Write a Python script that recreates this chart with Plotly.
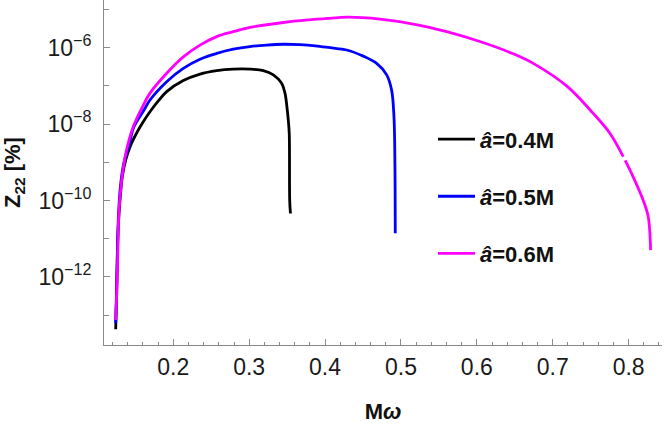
import plotly.graph_objects as go

# M*omega values and Z22 [%] for each spin
x_04 = [0.1241, 0.1254, 0.1262, 0.1275, 0.1298, 0.1328, 0.1373, 0.1439, 0.1526, 0.1600,
        0.1693, 0.1800, 0.1913, 0.2132, 0.2352, 0.2572, 0.2790, 0.3010, 0.3186, 0.3318,
        0.3428, 0.3472, 0.3502, 0.3515, 0.3528, 0.3534, 0.3544]
z_04 = [4.27e-14, 3.72e-13, 2.75e-12, 2.04e-11, 1.02e-10, 4.17e-10, 1.15e-9, 2.82e-9, 6.31e-9, 1.12e-8,
        2.11e-8, 3.98e-8, 7.08e-8, 1.38e-7, 2.04e-7, 2.51e-7, 2.75e-7, 2.75e-7, 2.51e-7, 1.95e-7,
        1.17e-7, 6.46e-8, 2.34e-8, 1.29e-8, 5.75e-9, 1.02e-10, 4.57e-11]

x_05 = [0.1241, 0.1254, 0.1265, 0.1280, 0.1305, 0.1345, 0.1416, 0.1482, 0.1614, 0.1693,
        0.1913, 0.2132, 0.2352, 0.2572, 0.2790, 0.3010, 0.3230, 0.3449, 0.3669, 0.3870,
        0.4065, 0.4285, 0.4503, 0.4680, 0.4812, 0.4877, 0.4908, 0.4921, 0.4925]
z_05 = [6.17e-14, 6.31e-13, 6.31e-12, 5.01e-11, 2.51e-10, 8.91e-10, 2.82e-9, 8.51e-9, 2.34e-8, 4.27e-8,
        1.29e-7, 2.88e-7, 5.01e-7, 7.08e-7, 9.12e-7, 1.07e-6, 1.17e-6, 1.23e-6, 1.20e-6, 1.12e-6,
        1.00e-6, 8.71e-7, 6.03e-7, 3.89e-7, 1.95e-7, 7.76e-8, 1.55e-8, 7.59e-10, 1.38e-11]

x_06 = [0.1241, 0.1262, 0.1271, 0.1285, 0.1315, 0.1350, 0.1394, 0.1482, 0.1600, 0.1693,
        0.1913, 0.2132, 0.2352, 0.2572, 0.2790, 0.3010, 0.3449, 0.3800, 0.4065, 0.4285,
        0.4723, 0.5162, 0.5602, 0.6040, 0.6480, 0.6743, 0.7183, 0.7533, 0.7753, 0.7929,
        None, 0.7955, 0.8060, 0.8192, 0.8258, 0.8290]
z_06 = [7.41e-14, 1.0e-12, 7.59e-12, 5.62e-11, 2.82e-10, 9.33e-10, 2.57e-9, 9.55e-9, 3.02e-8, 6.46e-8,
        2.14e-7, 5.75e-7, 1.17e-6, 1.95e-6, 2.63e-6, 3.39e-6, 4.57e-6, 5.37e-6, 5.89e-6, 6.31e-6,
        5.62e-6, 4.17e-6, 2.63e-6, 1.45e-6, 6.92e-7, 3.89e-7, 1.00e-7, 1.91e-8, 5.75e-9, 1.41e-9,
        None, 1.12e-9, 4.17e-10, 1.02e-10, 3.80e-11, 5.01e-12]

labels = ["<b><i>â</i>=0.4M</b>", "<b><i>â</i>=0.5M</b>", "<b><i>â</i>=0.6M</b>"]
colors = ["#000000", "#0000ff", "#ff00ff"]

x_ticks = [0.2, 0.3, 0.4, 0.5, 0.6, 0.7, 0.8]
y_ticks = [1e-12, 1e-10, 1e-8, 1e-6]
y_ticktext = ["10<sup>\u221212</sup>", "10<sup>\u221210</sup>", "10<sup>\u22128</sup>", "10<sup>\u22126</sup>"]
y_minor = [1e-13, 1e-11, 1e-9, 1e-7, 1e-5]

FONT = "Liberation Sans, Arial, sans-serif"
AXIS_GRAY = "#8a8a8a"

fig = go.Figure()
series = [(x_04, z_04), (x_05, z_05), (x_06, z_06)]
for i, (xs, zs) in enumerate(series):
    fig.add_trace(go.Scatter(
        x=xs, y=zs, mode="lines", name=labels[i],
        legendgroup=str(i),
        line=dict(color=colors[i], width=2.8, shape="spline", smoothing=1.0),
        connectgaps=False,
    ))

fig.update_layout(
    width=664, height=424,
    margin=dict(l=104, r=2, t=0, b=79),
    paper_bgcolor="white", plot_bgcolor="white",
    font=dict(family=FONT, size=23, color="#1a1a1a"),
    showlegend=True,
    legend=dict(
        x=(433 - 104) / 558, xanchor="left",
        y=0.657, yanchor="top",
        font=dict(family=FONT, size=22, color="#111"),
        itemwidth=37, tracegroupgap=25.5,
        bgcolor="rgba(0,0,0,0)",
    ),
)

fig.update_xaxes(
    range=[0.1087, 0.844], automargin=False,
    showgrid=False, zeroline=False,
    showline=True, linecolor=AXIS_GRAY, linewidth=1,
    ticks="inside", ticklen=6, tickcolor=AXIS_GRAY,
    tickvals=x_ticks, ticktext=[f"{v:.1f}" for v in x_ticks],
    ticklabelstandoff=1,
    minor=dict(dtick=0.02, tick0=0, ticks="inside", ticklen=3.5, tickcolor=AXIS_GRAY),
    title=dict(text="<b>M<i>\u03c9</i></b>", font=dict(size=22, color="#111"), standoff=29),
)
fig.update_yaxes(
    type="log", range=[-13.783, -4.751], automargin=False,
    showgrid=False, zeroline=False,
    showline=True, linecolor=AXIS_GRAY, linewidth=1,
    ticks="inside", ticklen=6, tickcolor=AXIS_GRAY,
    tickvals=y_ticks, ticktext=y_ticktext,
    ticklabelstandoff=7,
    minor=dict(tickvals=y_minor, ticks="inside", ticklen=5, tickcolor=AXIS_GRAY),
    title=dict(text="<b>Z<sub>22</sub> [%]</b>", font=dict(size=22, color="#111"), standoff=15),
)

# page body has an 8px default margin; drop it so the figure sits at the corner
fig.write_html("out.html", config={"displayModeBar": False},
               post_script="document.body.style.margin='0px';")
